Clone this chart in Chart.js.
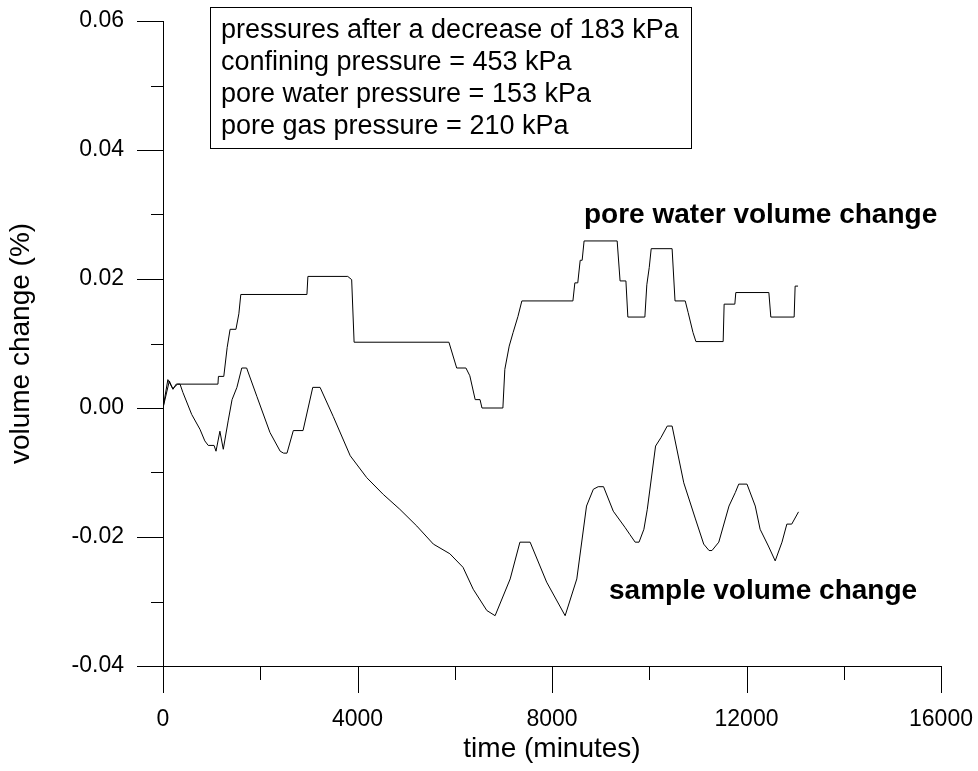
<!DOCTYPE html>
<html>
<head>
<meta charset="utf-8">
<script src="https://cdn.jsdelivr.net/npm/chart.js@4.4.1/dist/chart.umd.min.js"></script>
<style>
  html, body { margin: 0; padding: 0; background: #fff; }
  #wrap { width: 978px; height: 771px; }
</style>
</head>
<body>
<div id="wrap"><canvas id="myChart" width="978" height="771"></canvas></div>
<script>
'use strict';
// pore water volume change (%) vs time (minutes)
const poreT = [0, 100, 200, 300, 1130, 1140, 1250, 1320, 1380, 1500, 1560, 1600, 2960, 2980, 3800, 3880, 3930,
  5880, 6040, 6230, 6310, 6420, 6520, 6560, 6990, 7030, 7120, 7200, 7300, 7380, 8430, 8470, 8530, 8580, 8620,
  8660, 9340, 9400, 9520, 9560, 9910, 9950, 10000, 10040, 10470, 10530, 10740, 10800, 10900, 10960, 11520,
  11540, 11760, 11780, 12460, 12500, 12980, 13000, 13060];
const poreV = [0, 0.0044, 0.003, 0.0037, 0.0037, 0.0049, 0.0049, 0.0094, 0.0122, 0.0122, 0.0146, 0.0176, 0.0176,
  0.0204, 0.0204, 0.0199, 0.0102, 0.0102, 0.0062, 0.0062, 0.005, 0.0013, 0.0013, 0.0, 0.0, 0.006, 0.0096, 0.0117,
  0.0142, 0.0166, 0.0166, 0.0194, 0.0194, 0.0229, 0.0229, 0.0259, 0.0259, 0.0197, 0.0197, 0.0141, 0.0141, 0.0191,
  0.0218, 0.0247, 0.0247, 0.0166, 0.0166, 0.0148, 0.0117, 0.0103, 0.0103, 0.0161, 0.0161, 0.0179, 0.0179, 0.0141,
  0.0141, 0.0189, 0.0189];

// sample volume change (%) vs time (minutes)
const sampleT = [0, 130, 206, 270, 350, 410, 590, 760, 860, 930, 1050, 1090, 1170, 1240, 1340, 1420, 1520, 1620,
  1720, 1930, 2200, 2410, 2480, 2550, 2680, 2880, 3080, 3230, 3500, 3850, 4190, 4530, 4870, 5220, 5560, 5900,
  6170, 6380, 6660, 6830, 7140, 7340, 7550, 7890, 8270, 8510, 8710, 8850, 8950, 9060, 9260, 9500, 9600, 9710,
  9790, 9890, 9960, 10130, 10240, 10370, 10470, 10710, 10950, 11120, 11230, 11290, 11430, 11640, 11770, 11840,
  12010, 12180, 12280, 12450, 12590, 12730, 12830, 12930, 13070];
const sampleV = [0, 0.0042, 0.0029, 0.0037, 0.0037, 0.0024, -0.001, -0.0033, -0.0051, -0.0058, -0.0058, -0.0067,
  -0.0036, -0.0064, -0.002, 0.0013, 0.0032, 0.0062, 0.0062, 0.0018, -0.0038, -0.0067, -0.007, -0.007, -0.0035,
  -0.0035, 0.0032, 0.0032, -0.0013, -0.0074, -0.0108, -0.0134, -0.0157, -0.0183, -0.0211, -0.0226, -0.0247,
  -0.0281, -0.0314, -0.0322, -0.0265, -0.0208, -0.0208, -0.027, -0.0322, -0.0265, -0.0152, -0.0126, -0.0122,
  -0.0122, -0.016, -0.0185, -0.0196, -0.0208, -0.0208, -0.0188, -0.0157, -0.0059, -0.0046, -0.0028, -0.0028,
  -0.0116, -0.0172, -0.0211, -0.0221, -0.0221, -0.0208, -0.0152, -0.0131, -0.0118, -0.0118, -0.0152, -0.0188,
  -0.0214, -0.0237, -0.0208, -0.018, -0.018, -0.0161];

const infoLines = [
  'pressures after a decrease of 183 kPa',
  'confining pressure = 453 kPa',
  'pore water pressure = 153 kPa',
  'pore gas pressure = 210 kPa'
];
const seriesLabels = ['pore water volume change', 'sample volume change'];

const FONT = "'Liberation Sans', Arial, Helvetica, sans-serif";

function toPoints(xs, ys) {
  let pts = [];
  for (let i = 0; i < xs.length; i++) {
    pts.push({x: xs[i], y: ys[i]});
  }
  return pts;
}

function isMajorY(v) {
  return Math.round(v * 100) % 2 === 0;
}
function isMajorX(v) {
  return Math.round(v) % 4000 === 0;
}

// tick marks: long for labelled ticks, short for the others
const tickMarks = {
  id: 'tickMarks',
  afterDraw(chart) {
    const ctx = chart.ctx;
    const xs = chart.scales.x;
    const ys = chart.scales.y;
    const area = chart.chartArea;
    ctx.save();
    ctx.strokeStyle = '#000';
    ctx.lineWidth = 1;
    ctx.beginPath();
    ys.ticks.forEach(t => {
      const py = Math.round(ys.getPixelForValue(t.value)) + 0.5;
      const len = isMajorY(t.value) ? 26 : 12;
      ctx.moveTo(area.left - len, py);
      ctx.lineTo(area.left, py);
    });
    xs.ticks.forEach(t => {
      const px = Math.round(xs.getPixelForValue(t.value)) + 0.5;
      const len = isMajorX(t.value) ? 27 : 14;
      ctx.moveTo(px, area.bottom);
      ctx.lineTo(px, area.bottom + len);
    });
    ctx.stroke();
    ctx.restore();
  }
};

// text box and the two series names
const notes = {
  id: 'notes',
  afterDraw(chart) {
    const ctx = chart.ctx;
    ctx.save();
    ctx.fillStyle = '#000';
    ctx.strokeStyle = '#000';
    ctx.lineWidth = 1;
    ctx.strokeRect(210.5, 7.5, 481, 141);
    ctx.font = '27px ' + FONT;
    ctx.textAlign = 'left';
    ctx.textBaseline = 'middle';
    for (let i = 0; i < infoLines.length; i++) {
      ctx.fillText(infoLines[i], 221, 31 + i * 32);
    }
    ctx.font = 'bold 28px ' + FONT;
    ctx.fillText(seriesLabels[0], 584, 215);
    ctx.fillText(seriesLabels[1], 609, 591);
    ctx.restore();
  }
};

const hiddenGrid = {
  display: true,
  drawOnChartArea: false,
  drawTicks: true,
  tickColor: 'rgba(0,0,0,0)'
};

function chartRender() {
  let ctx = document.getElementById('myChart').getContext('2d');
  let chart = new Chart(ctx, {
    type: 'line',
    data: {
      datasets: [{
        label: seriesLabels[0],
        data: toPoints(poreT, poreV),
        borderColor: '#000',
        borderWidth: 1,
        pointRadius: 0,
        tension: 0
      },
      {
        label: seriesLabels[1],
        data: toPoints(sampleT, sampleV),
        borderColor: '#000',
        borderWidth: 1,
        pointRadius: 0,
        tension: 0
      }]
    },
    options: {
      responsive: false,
      animation: false,
      layout: {padding: {top: 21, right: 37, left: 0, bottom: 0}},
      plugins: {legend: {display: false}, tooltip: {enabled: false}},
      scales: {
        x: {
          type: 'linear',
          min: 0,
          max: 16000,
          grid: Object.assign({}, hiddenGrid, {tickLength: 40}),
          border: {display: true, color: '#000', width: 1},
          ticks: {
            stepSize: 2000,
            padding: 0,
            maxRotation: 0,
            color: '#000',
            font: {family: FONT, size: 23},
            callback: (v) => isMajorX(v) ? String(v) : ''
          },
          title: {
            display: true,
            text: 'time (minutes)',
            color: '#000',
            font: {family: FONT, size: 28},
            padding: {top: 0, bottom: 5}
          },
          afterFit: (s) => { s.height = 105; }
        },
        y: {
          min: -0.04,
          max: 0.06,
          grid: Object.assign({}, hiddenGrid, {tickLength: 39}),
          border: {display: true, color: '#000', width: 1},
          ticks: {
            stepSize: 0.01,
            padding: 0,
            color: '#000',
            font: {family: FONT, size: 23},
            callback: (v) => isMajorY(v) ? v.toFixed(2) : ''
          },
          title: {
            display: true,
            text: 'volume change (%)',
            color: '#000',
            font: {family: FONT, size: 28},
            padding: {top: 4, bottom: 0}
          },
          afterFit: (s) => { s.width = 163; }
        }
      }
    },
    plugins: [tickMarks, notes]
  });
}
chartRender();
</script>
</body>
</html>
